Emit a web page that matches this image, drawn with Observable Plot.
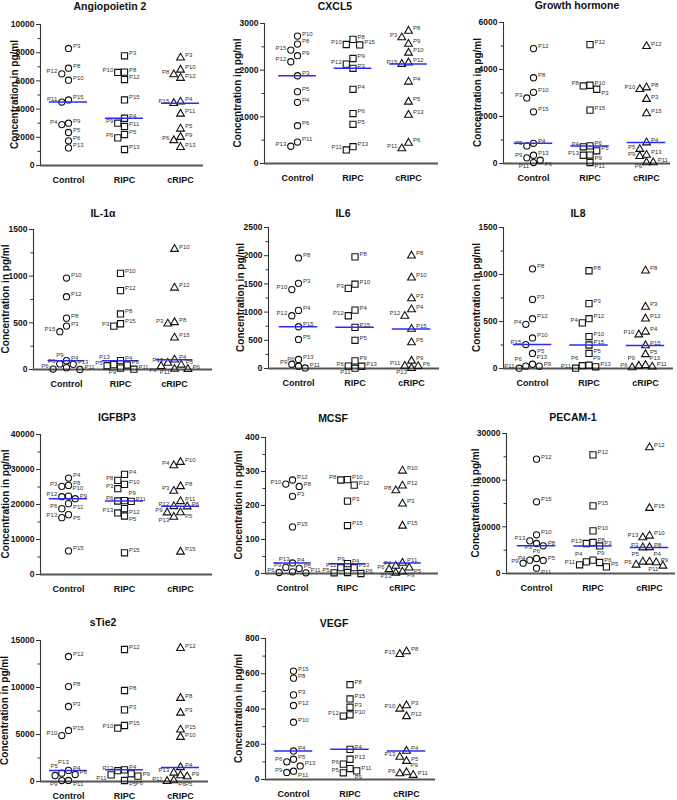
<!DOCTYPE html>
<html><head><meta charset="utf-8">
<script src="https://cdn.jsdelivr.net/npm/d3@7"></script>
<script src="https://cdn.jsdelivr.net/npm/@observablehq/plot@0.6"></script>
<style>
body{margin:0;background:#fff;font-family:"Liberation Sans",Arial,sans-serif;}
#wrap{position:relative;width:677px;height:800px;overflow:hidden;}
#wrap svg{position:absolute;overflow:visible;}
</style></head><body><div id="wrap"></div>
<script>
// ---------- DATA ----------
const groups = ["Control", "RIPC", "cRIPC"];
const patients = ["P3","P4","P5","P6","P8","P9","P10","P11","P12","P13","P15"];
const analytes = ["Angiopoietin 2","CXCL5","Growth hormone","IL-1\u03b1","IL6","IL8","IGFBP3","MCSF","PECAM-1","sTie2","VEGF"];
const yMax = [10000, 3000, 6000, 1500, 2500, 1500, 40000, 400, 30000, 15000, 800];
const yTickStep = [2000, 1000, 2000, 500, 500, 500, 10000, 100, 10000, 5000, 200];
const yLabel = "Concentration in pg/ml";

// values per group, in patient order P3,P4,P5,P6,P8,P9,P10,P11,P12,P13,P15
const angiopoietin2 = [
  [8300, 2900, 2340, 1750, 6900, 3000, 6050, 4500, 6500, 1250, 4650],
  [7780, 3350, 2200, 1960, 6620, 3000, 6600, 2770, 6100, 1135, 4650],
  [7640, 4520, 2600, 1780, 6450, 2010, 6780, 3660, 6200, 1300, 4420]
];
const cxcl5 = [
  [1880, 1310, 1540, 810, 2560, 2310, 2730, 460, 2180, 370, 2430],
  [2040, 1590, 840, 1070, 2660, 2250, 2550, 290, 2130, 360, 2540],
  [2700, 1750, 1320, 440, 2840, 2560, 2370, 320, 2160, 1040, 2130]
];
const growthHormone = [
  [2790, 860, 750, 140, 3650, 240, 3030, 40, 4890, 350, 2200],
  [3160, 710, 540, 750, 3300, 360, 3330, 40, 5060, 350, 2270],
  [2740, 890, 610, 45, 3230, 310, 3160, 40, 4990, 360, 2130]
];
const il1a = [
  [465, 95, 60, 5, 550, 20, 980, 0, 780, 55, 405],
  [465, 95, 40, 48, 595, 15, 1030, 3, 845, 52, 490],
  [490, 105, 50, 3, 505, 35, 1290, 5, 875, 70, 340]
];
const il6 = [
  [1510, 1030, 515, 40, 1960, 75, 1400, 10, 935, 160, 740],
  [1420, 1035, 500, 42, 1980, 135, 1495, 5, 935, 40, 730],
  [1240, 1045, 460, 40, 2000, 135, 1610, 45, 930, 5, 700]
];
const il8 = [
  [735, 470, 160, 25, 1060, 25, 325, 3, 530, 45, 255],
  [690, 485, 160, 30, 1040, 35, 340, 3, 530, 18, 250],
  [655, 390, 150, 10, 1040, 28, 360, 18, 530, 35, 245]
];
const igfbp3 = [
  [25180, 27550, 17100, 18810, 25460, 21660, 22420, 20240, 22230, 16250, 6750],
  [24510, 28600, 16720, 21000, 26890, 21100, 25750, 20900, 18810, 17580, 6200],
  [23850, 31160, 17700, 19400, 25180, 17670, 32100, 20900, 19480, 16440, 6460]
];
const mcsf = [
  [227, 31, 15, 3, 256, 18, 263, 2, 275, 5, 137],
  [213, 29, 2, 0, 275, 3, 276, 17, 260, 17, 141],
  [205, 22, 17, 12, 244, 5, 302, 31, 258, 2, 140]
];
const pecam1 = [
  [6430, 2860, 2800, 3210, 5930, 2210, 8290, 1140, 24500, 7000, 15360],
  [5900, 2500, 1430, 2360, 6640, 2860, 9140, 1860, 25430, 6430, 14500],
  [5550, 2500, 2500, 1860, 5600, 2360, 8070, 1640, 27000, 7710, 14000]
];
const stie2 = [
  [7980, 1180, 890, 745, 10100, 100, 4890, 110, 13300, 640, 5430],
  [7620, 1240, 106, 820, 9680, 570, 5670, 710, 14040, 1150, 5960],
  [7300, 1500, 640, 110, 8870, 530, 4720, 35, 14180, 920, 5500]
];
const vegf = [
  [480, 162, 115, 100, 575, 40, 325, 47, 420, 77, 615],
  [410, 171, 38, 87, 538, 62, 367, 49, 360, 115, 457],
  [420, 162, 104, 34, 726, 40, 401, 25, 358, 128, 711]
];
const panelValues = [angiopoietin2, cxcl5, growthHormone, il1a, il6, il8, igfbp3, mcsf, pecam1, stie2, vegf];

// ---------- LAYOUT (panel-local pixel geometry) ----------
const layout = [
  {col:0,row:0,axis:40,c0:68,step:56,end:203,top:24,zero:165,tx:110,ty:10,lx:14},
  {col:1,row:0,axis:39,c0:72,step:55.5,end:213,top:23,zero:163,tx:110,ty:10,lx:12},
  {col:2,row:0,axis:53,c0:83,step:56.5,end:220,top:22,zero:163,tx:127,ty:9,lx:27},
  {col:0,row:1,axis:33,c0:66,step:54,end:212,top:29,zero:169,tx:103,ty:17,lx:5},
  {col:1,row:1,axis:43,c0:73,step:56.5,end:214,top:27,zero:168,tx:118,ty:17,lx:15},
  {col:2,row:1,axis:53,c0:82,step:56.5,end:223,top:27,zero:168,tx:128,ty:17,lx:26},
  {col:0,row:2,axis:40,c0:68,step:56,end:212,top:34,zero:174,tx:117,ty:21,lx:5},
  {col:1,row:2,axis:40,c0:67,step:55,end:213,top:37,zero:173,tx:108,ty:22,lx:13},
  {col:2,row:2,axis:56,c0:86,step:56.5,end:225,top:33,zero:173,tx:123,ty:21,lx:25},
  {col:0,row:3,axis:40,c0:68,step:56,end:208,top:40,zero:181,tx:103,ty:26,lx:4},
  {col:1,row:3,axis:40,c0:68,step:56.5,end:210,top:38,zero:179,tx:109,ty:27,lx:13}
];
const colLeft = [0, 225, 450];
const rowTop = [0, 200, 400, 600];
const symbols = ["circle", "square", "triangle"];
const symR = [3.1, 3.5, 2.9];
const font = "Liberation Sans, Arial, Helvetica, sans-serif";
const pageW = 677;
const labFont = 6, charW = 3.35, labH = 5;

const wrap = document.getElementById("wrap");

function overlaps(a, b) {
  return a[0] < b[2] && b[0] < a[2] && a[1] < b[3] && b[1] < a[3];
}

analytes.forEach((name, i) => {
  const L = layout[i];
  const W = L.col === 2 ? 227 : 225, H = 200;
  const vals = panelValues[i];
  const xDomain = [(L.axis - L.c0) / L.step, 2 + (L.end - (L.c0 + 2 * L.step)) / L.step];
  const yPix = d3.scaleLinear([0, yMax[i]], [L.zero, L.top]);
  const gap = 6.7; // marker spacing in px for the scatter spread

  const pts = [];
  groups.forEach((g, gi) => {
    const items = patients.map((p, k) => ({group: g, gi, patient: p, value: vals[gi][k]}));
    const order = items.slice().sort((a, b) => b.value - a.value);
    const placed = [];
    order.forEach(d => {
      const py = yPix(d.value);
      for (const k of [0, -1, 1, -2, 2, -3, 3]) {
        if (placed.every(q => q.k !== k || Math.abs(q.py - py) >= gap)) {
          d.k = k; d.py = py; placed.push(d); break;
        }
      }
    });
    items.forEach(d => {
      d.x = gi + d.k * gap / L.step;
      d.px = L.c0 + d.x * L.step;
    });
    pts.push(...items);
  });

  // label placement: try several spots around each marker, avoiding other labels and markers
  const markerBoxes = pts.map(d => [d.px - 3, d.py - 3, d.px + 3, d.py + 3]);
  const labelBoxes = [];
  const byValue = pts.slice().sort((a, b) => a.gi - b.gi || b.value - a.value);
  byValue.forEach(d => {
    const w = d.patient.length * charW;
    const right = [
      {anchor: "start", dx: 4.5, dy: -2.5},
      {anchor: "start", dx: 4, dy: -7.5},
      {anchor: "start", dx: 4.5, dy: 3.5},
      {anchor: "start", dx: 4.5, dy: 9},
      {anchor: "start", dx: 3, dy: -13}
    ];
    const left = right.map(c => ({anchor: "end", dx: -c.dx, dy: c.dy}));
    let cands = [];
    for (let j = 0; j < right.length; j++) {
      if (d.k < 0) cands.push(left[j], right[j]); else cands.push(right[j], left[j]);
      if (j === 1) cands.push({anchor: "middle", dx: 0, dy: -7.5});
    }
    cands.push({anchor: "middle", dx: 0, dy: 8.5});
    const boxOf = c => {
      const cx = d.px + c.dx, cy = d.py + c.dy;
      const x0 = c.anchor === "start" ? cx : c.anchor === "end" ? cx - w : cx - w / 2;
      return [x0, cy - labH / 2, x0 + w, cy + labH / 2];
    };
    const fits = c => {
      const box = boxOf(c);
      if (colLeft[L.col] + box[2] > pageW - 1) return null;
      if (box[0] < L.axis + 1) return null;
      if (box[3] > L.zero + 9) return null;
      if (labelBoxes.some(b => overlaps(b, box))) return null;
      if (markerBoxes.some((b, bi) => pts[bi] !== d && overlaps(b, box))) return null;
      return box;
    };
    let chosen = null, box = null;
    for (const c of cands) { box = fits(c); if (box) { chosen = c; break; } }
    if (!chosen) {
      // least-overlap fallback
      let best = Infinity;
      for (const c of cands) {
        const b = boxOf(c);
        if (colLeft[L.col] + b[2] > pageW - 1) continue;
        const n = labelBoxes.filter(q => overlaps(q, b)).length * 3 +
                  markerBoxes.filter((q, bi) => pts[bi] !== d && overlaps(q, b)).length +
                  (b[3] > L.zero + 9 ? 2 : 0);
        if (n < best) { best = n; chosen = c; box = b; }
      }
    }
    labelBoxes.push(box);
    d.anchor = chosen.anchor;
    d.lx = (d.px + chosen.dx - L.c0) / L.step;
    d.ly = yPix.invert(d.py + chosen.dy);
  });

  const meds = groups.map((g, gi) => ({gi, med: d3.median(vals[gi])}));
  const major = d3.range(0, yMax[i] + 1, yTickStep[i]);
  const minor = d3.range(yTickStep[i] / 2, yMax[i], yTickStep[i]);

  const marks = [
    Plot.axisY({ticks: major, tickSize: 4, tickPadding: 2, tickFormat: d => String(d),
      fontWeight: "bold", fontSize: 8.5, stroke: "#333", label: null}),
    Plot.axisY({ticks: minor, tickSize: 2.5, tickFormat: () => "", stroke: "#333", label: null}),
    Plot.axisX({ticks: [0, 1, 2], tickFormat: d => groups[d], tickSize: 0, tickPadding: 11,
      fontWeight: "bold", fontSize: 9, label: null}),
    Plot.ruleX([xDomain[0]], {stroke: "#333", strokeWidth: 1.1}),
    Plot.ruleY([0], {stroke: "#555", strokeWidth: 1.8})
  ];
  groups.forEach((g, gi) => {
    marks.push(Plot.dot(pts.filter(d => d.gi === gi), {
      x: "x", y: "value", symbol: symbols[gi], r: symR[gi],
      stroke: "#111", strokeWidth: 1.1, fill: "none"
    }));
  });
  marks.push(Plot.ruleY(meds, {y: "med", x1: d => d.gi - 0.34, x2: d => d.gi + 0.34,
    stroke: "#2b2bf5", strokeWidth: 1.5}));
  for (const anchor of ["start", "end", "middle"]) {
    marks.push(Plot.text(pts.filter(d => d.anchor === anchor), {x: "lx", y: "ly", text: "patient",
      textAnchor: anchor, lineAnchor: "middle", fontSize: labFont, fill: "#333"}));
  }

  const svg = Plot.plot({
    width: W, height: H,
    marginLeft: L.axis, marginRight: W - L.end, marginTop: L.top, marginBottom: H - L.zero,
    style: {fontFamily: font, background: "transparent", overflow: "visible", color: "#111"},
    x: {domain: xDomain},
    y: {domain: [0, yMax[i]]},
    marks
  });
  svg.style.left = colLeft[L.col] + "px";
  svg.style.top = rowTop[L.row] + "px";
  const s = d3.select(svg);
  s.append("text").attr("x", L.tx).attr("y", L.ty).attr("text-anchor", "middle")
    .attr("font-weight", "bold").attr("font-size", 10.5).attr("fill", "#111")
    .attr("font-family", font).text(name);
  s.append("text")
    .attr("transform", `translate(${L.lx},${(L.top + L.zero) / 2}) rotate(-90)`)
    .attr("text-anchor", "middle").attr("dy", "0.35em")
    .attr("font-weight", "bold").attr("font-size", 10).attr("fill", "#111")
    .attr("font-family", font).text(yLabel);
  wrap.appendChild(svg);
});
</script></body></html>
